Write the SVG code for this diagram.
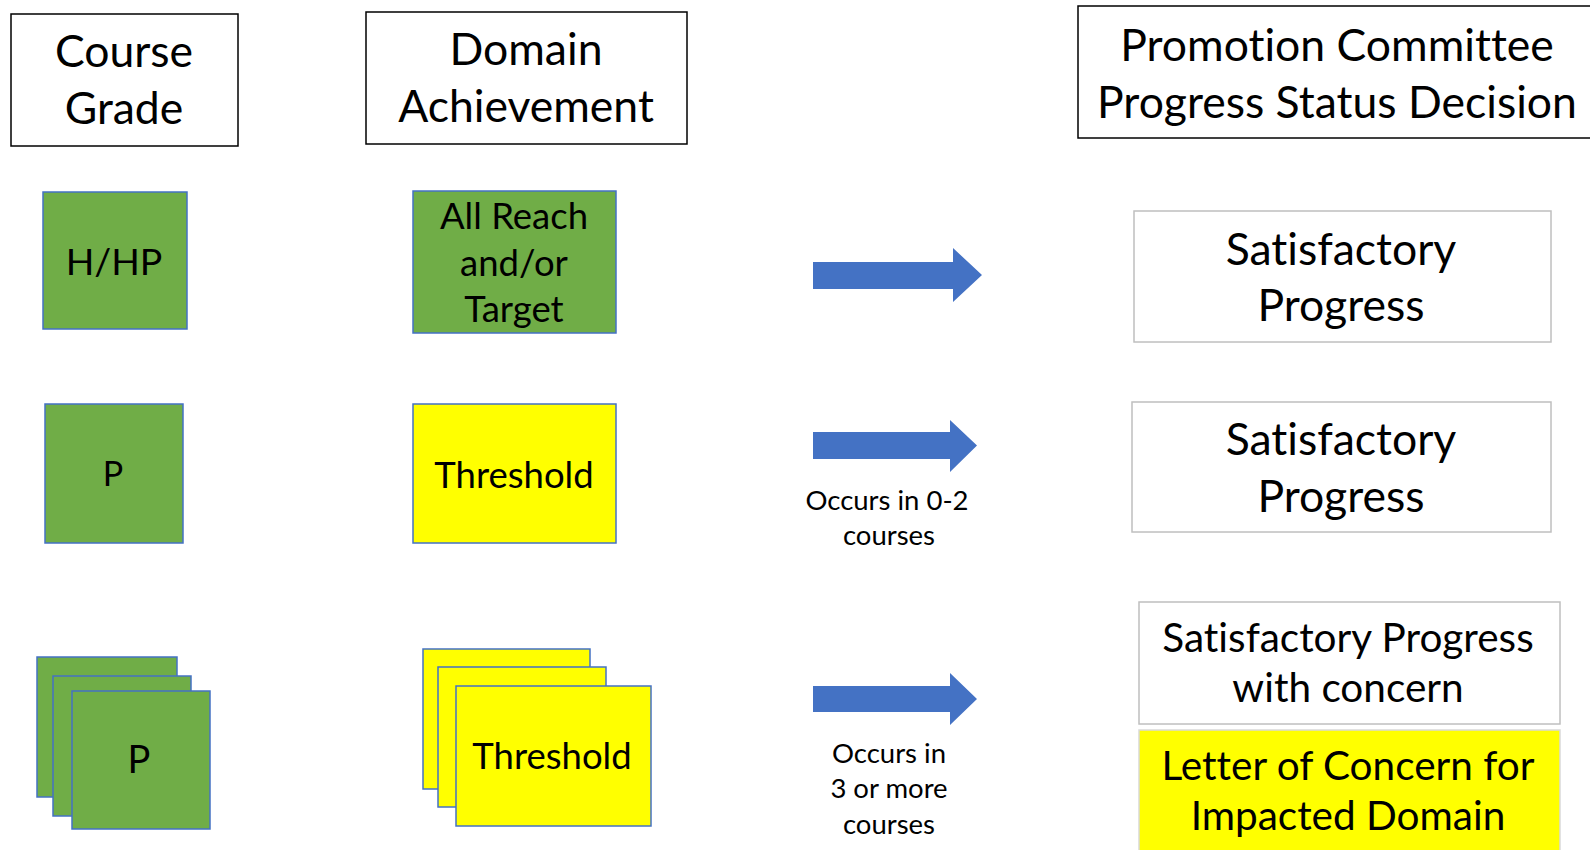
<svg xmlns="http://www.w3.org/2000/svg" width="1590" height="850" viewBox="0 0 1590 850">
<style>
text{font-family:Lato,"Liberation Sans",sans-serif;fill:#000;text-anchor:middle;font-variant-ligatures:none}
.hdr{fill:#fff;stroke:#000;stroke-width:1.5}
.out{fill:#fff;stroke:#bfbfbf;stroke-width:1.5}
.grn{fill:#70ad47;stroke:#4472c4;stroke-width:1.5}
.yel{fill:#ffff00;stroke:#4472c4;stroke-width:1.5}
.yel2{fill:#ffff00;stroke:#d9d9d9;stroke-width:1.5}
.arr{fill:#4472c4}
.t47{font-size:44.5px}
.t43{font-size:40.5px}
.t39{font-size:36.5px}
.t29{font-size:27.5px}
</style>
<rect width="1590" height="850" fill="#fff"/>
<g id="hdr-course">
<rect class="hdr" x="11" y="14" width="227" height="132"/>
<text class="t47" x="124" y="67">Course</text>
<text class="t47" x="124" y="124">Grade</text>
</g>
<g id="hdr-domain">
<rect class="hdr" x="366" y="12" width="321" height="132"/>
<text class="t47" x="526" y="65">Domain</text>
<text class="t47" x="526" y="122">Achievement</text>
</g>
<g id="hdr-promo">
<rect class="hdr" x="1078" y="6" width="530" height="132"/>
<text class="t47" x="1337" y="61">Promotion Committee</text>
<text class="t47" x="1337" y="118">Progress Status Decision</text>
</g>
<g id="grade-hhp">
<rect class="grn" x="43" y="192" width="144" height="137"/>
<text class="t39" x="114" y="275" style="font-size:37.5px">H/HP</text>
</g>
<g id="domain-reach">
<rect class="grn" x="413" y="191" width="203" height="142"/>
<text class="t39" x="514" y="229">All Reach</text>
<text class="t39" x="514" y="276">and/or</text>
<text class="t39" x="514" y="322">Target</text>
</g>
<g id="decision-sat1">
<rect class="out" x="1134" y="211" width="417" height="131"/>
<text class="t47" x="1341" y="265">Satisfactory</text>
<text class="t47" x="1341" y="321">Progress</text>
</g>
<g id="grade-p">
<rect class="grn" x="45" y="404" width="138" height="139"/>
<text class="t39" x="113" y="486" style="font-size:34px">P</text>
</g>
<g id="domain-threshold">
<rect class="yel" x="413" y="404" width="203" height="139"/>
<text class="t39" x="514" y="488">Threshold</text>
</g>
<g id="decision-sat2">
<rect class="out" x="1132" y="402" width="419" height="130"/>
<text class="t47" x="1341" y="455">Satisfactory</text>
<text class="t47" x="1341" y="512">Progress</text>
</g>
<g id="grade-p-stack">
<rect class="grn" x="37" y="657" width="140" height="140"/>
<rect class="grn" x="53" y="676" width="138" height="140"/>
<rect class="grn" x="72" y="691" width="138" height="138"/>
<text class="t39" x="139" y="773" style="font-size:38px">P</text>
</g>
<g id="domain-threshold-stack">
<rect class="yel" x="423" y="649" width="167" height="140"/>
<rect class="yel" x="438" y="667" width="168" height="140"/>
<rect class="yel" x="456" y="686" width="195" height="140"/>
<text class="t39" x="552" y="769">Threshold</text>
</g>
<g id="decision-concern">
<rect class="out" x="1139" y="602" width="421" height="122"/>
<text class="t43" x="1348" y="652">Satisfactory Progress</text>
<text class="t43" x="1348" y="702">with concern</text>
</g>
<g id="decision-letter">
<rect class="yel2" x="1139" y="730" width="421" height="130"/>
<text class="t43" x="1348" y="780">Letter of Concern for</text>
<text class="t43" x="1348" y="830">Impacted Domain</text>
</g>
<g id="connectors">
<path class="arr" d="M813,262 H953 V248 L982,275 L953,302 V289 H813 Z"/>
<path class="arr" d="M813,432 H950 V420 L977,445.5 L950,472 V459 H813 Z"/>
<path class="arr" d="M813,686 H950 V673 L977,699 L950,725 V712 H813 Z"/>
<text class="t29" x="887" y="510">Occurs in 0-2</text>
<text class="t29" x="889" y="545">courses</text>
<text class="t29" x="889" y="763">Occurs in</text>
<text class="t29" x="889" y="798">3 or more</text>
<text class="t29" x="889" y="834">courses</text>
</g>
</svg>
